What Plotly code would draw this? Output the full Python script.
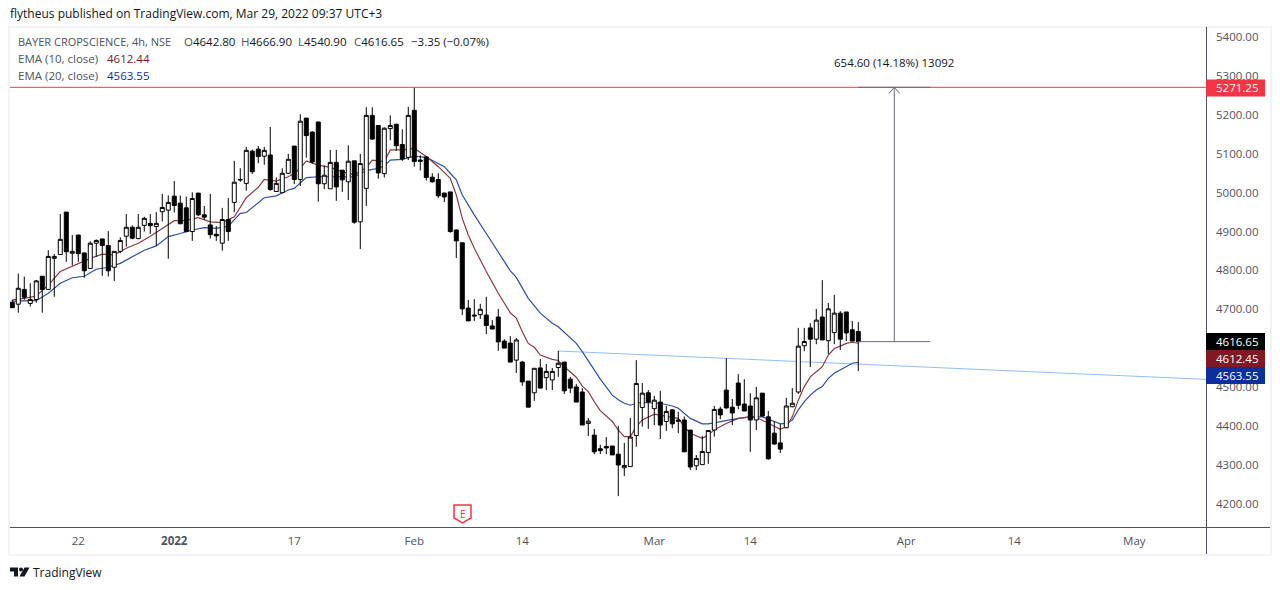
# bayer_chart.py
# TradingView style candle chart rebuilt with Plotly
import plotly.graph_objects as go

W, H = 1280, 590
FONT = "Open Sans"
GREY = "#50535e"
INK = "#131722"
RED = "#f23645"
DARK_RED = "#801922"
BLUE = "#0d2f9c"

# candle values, one per 4h bar
opens = [4718,4713,4751,4715,4725,4785,4751,4831,4841,4950,4844,4891,4845,4805,4870,4881,4864,4808,4849,4888,
         4911,4882,4916,4921,4913,4951,4955,4991,4973,4961,4900,4999,4943,4917,4893,4870,4931,4975,5034,5024,
         5107,5112,5094,5097,5003,5000,5050,5120,5034,5192,5156,5182,5023,5010,5078,5058,5028,5082,4925,5011,
         5199,5173,5049,5165,5176,5124,5091,5212,5084,5092,5040,5034,4999,5002,4904,4871,4703,4685,4686,4685,
         4657,4680,4618,4613,4569,4564,4515,4485,4549,4524,4518,4550,4564,4520,4500,4487,4406,4376,4341,4347,
         4348,4327,4292,4295,4375,4447,4485,4444,4461,4411,4441,4415,4415,4389,4297,4300,4331,4389,4443,4492,
         4448,4510,4456,4451,4415,4484,4423,4381,4356,4395,4449,4487,4606,4652,4623,4680,4619,4640,4690,4693,
         4647,4642.80]
highs = [4724,4792,4784,4767,4775,4785,4852,4842,4945,4950,4891,4891,4845,4875,4880,4881,4901,4849,4885,4945,
         4916,4945,4938,4945,4950,4997,4993,5030,4993,4990,5001,4999,4966,4997,4914,4961,4986,5082,5063,5118,
         5111,5120,5118,5169,5039,5063,5100,5120,5202,5192,5158,5182,5070,5110,5110,5058,5122,5082,5100,5220,
         5220,5173,5168,5199,5178,5163,5221,5271.25,5096,5094,5050,5050,5000,5002,4906,4871,4724,4726,4714,4732,
         4672,4701,4623,4631,4626,4567,4515,4548,4572,4559,4549,4593,4564,4526,4508,4497,4420,4392,4351,4371,
         4348,4400,4356,4420,4569,4510,4492,4477,4490,4451,4441,4436,4424,4389,4325,4374,4389,4451,4449,4574,
         4469,4533,4520,4484,4500,4484,4438,4412,4405,4472,4497,4652,4652,4664,4701,4775,4716,4737,4695,4693,
         4670,4666.90]
lows = [4704,4691,4724,4707,4717,4691,4751,4732,4840,4822,4813,4822,4781,4804,4835,4786,4784,4773,4844,4861,
        4880,4880,4900,4894,4863,4926,4830,4949,4919,4898,4876,4940,4930,4882,4876,4851,4876,4950,5028,5005,
        5048,5076,5072,5005,5003,5000,5048,5022,5017,5090,5075,4977,5009,5010,4979,5002,4981,4920,4855,4966,
        5136,5036,5039,5135,5108,5082,5084,5067,5057,5031,5026,4986,4976,4897,4832,4685,4670,4670,4675,4636,
        4649,4593,4600,4564,4536,4503,4448,4464,4497,4492,4492,4526,4482,4484,4461,4402,4374,4327,4327,4327,
        4325,4219,4271,4295,4346,4398,4392,4402,4366,4387,4394,4381,4333,4286,4286,4300,4302,4372,4417,4444,
        4402,4443,4438,4333,4389,4423,4313,4351,4330,4394,4448,4482,4592,4551,4610,4621,4585,4610,4595,4618,
        4618,4540.90]
closes = [4704,4754,4731,4725,4773,4751,4836,4836,4880,4848,4849,4843,4799,4870,4877,4864,4799,4849,4877,4911,
          4883,4911,4934,4915,4921,4962,4975,4967,4920,4900,4985,4943,4937,4892,4889,4931,4900,5027,5033,5109,
          5054,5093,5109,5008,5024,5050,5086,5034,5184,5147,5079,5023,5045,5078,5015,5033,5081,4924,5075,5199,
          5138,5051,5166,5173,5121,5087,5199,5080,5081,5039,5028,4992,4989,4900,4876,4701,4670,4683,4700,4658,
          4649,4616,4600,4564,4621,4513,4448,4548,4497,4540,4540,4561,4490,4497,4461,4402,4412,4333,4336,4343,
          4325,4299,4298,4371,4509,4484,4461,4466,4402,4437,4405,4412,4333,4294,4316,4334,4388,4442,4428,4446,
          4433,4453,4438,4415,4472,4425,4315,4353,4340,4451,4458,4605,4617,4623,4672,4621,4701,4690,4623,4639,
          4618,4616.65]
bars = list(range(len(closes)))

# EMA readings, bar index and value
ema10_bars = [0,2,4,6,8,11,13,15,17,19,21,23,25,27,29,31,33,35,37,39,41,42,44,46,47,48,49,51,53,55,57,59,60,62,63,65,
              67,69,71,73,74,75,76,77,79,81,83,84,85,86,87,88,90,91,92,94,95,96,97,98,100,101,102,103,104,105,107,
              109,111,112,113,115,116,117,119,121,123,124,125,127,128,129,130,131,132,133,134,135,136,137,138,139,140,141]
ema10 = [4724,4728,4734,4762,4797,4818,4831,4842,4840,4857,4870,4888,4908,4928,4929,4936,4925,4923,4938,4987,5014,
         5034,5030,5041,5050,5063,5082,5071,5065,5054,5046,5065,5084,5080,5110,5110,5114,5093,5067,5037,4994,4934,
         4891,4857,4797,4741,4691,4677,4642,4612,4602,4582,4571,4568,4552,4525,4502,4488,4462,4439,4411,4389,4372,
         4372,4398,4415,4430,4424,4419,4398,4381,4368,4376,4390,4406,4419,4423,4422,4415,4399,4391,4398,4423,4466,
         4501,4526,4539,4552,4582,4599,4605,4612,4615,4612.44]
ema20_bars = [0,2,4,6,7,8,10,12,14,16,18,20,22,24,26,28,30,32,34,36,38,39,41,42,44,46,47,49,51,53,55,57,59,61,62,63,
              65,67,69,71,72,73,74,75,76,77,79,81,83,84,86,88,90,91,93,94,95,96,97,98,99,100,101,102,103,104,105,108,
              110,111,113,115,116,117,119,121,123,125,127,128,129,130,131,132,133,134,135,136,137,138,139,140,141]
ema20 = [4721,4722,4722,4741,4754,4767,4781,4785,4803,4808,4818,4835,4852,4863,4887,4895,4904,4910,4908,4914,4947,
         4949,4974,4987,4992,5007,5011,5039,5041,5041,5041,5041,5057,5063,5069,5084,5086,5094,5091,5076,5067,5050,
         5033,4994,4968,4943,4895,4848,4799,4782,4728,4690,4664,4655,4627,4612,4591,4569,4544,4520,4498,4479,4467,
         4458,4453,4458,4460,4458,4451,4445,4419,4405,4405,4408,4413,4419,4423,4423,4411,4405,4406,4415,4441,4462,
         4479,4492,4501,4522,4535,4544,4552,4561,4563.55]

# trend line and measure tool
trend_bars = [91, 198.95]
trend_vals = [4592.5, 4519.5]
measure_from = 4616.65
measure_to = 5271.25
measure_bars = [141, 153]
measure_mid = 147

# axis labels, the 4600 label is hidden behind the price tags in the original
month_ticks = [11, 27, 47, 67, 85, 107, 123, 149, 167, 187]
month_labels = ["22", "<b>2022</b>", "17", "Feb", "14", "Mar", "14", "Apr", "14", "May"]
price_ticks = [5400, 5300, 5200, 5100, 5000, 4900, 4800, 4700, 4500, 4400, 4300, 4200]
price_labels = ["%.2f" % p for p in price_ticks]
x_range = [-0.38, 198.95]
y_range = [4139.5, 5426.5]


def px(x):
    return x / W


def py(y):
    return 1 - y / H


def note(x, y, text, color=GREY, size=11.5, anchor="left"):
    # annotations pad their text, pull left aligned ones back by that much
    if anchor == "left":
        x -= 2
    return dict(xref="paper", yref="paper", x=px(x), y=py(y), text=text, showarrow=False,
                xanchor=anchor, yanchor="middle", align=anchor,
                font=dict(family=FONT, size=size, color=color))


def rect(x0, y0, x1, y1, fill):
    return dict(type="rect", xref="paper", yref="paper", x0=px(x0), x1=px(x1), y0=py(y0), y1=py(y1),
                fillcolor=fill, line_width=0, layer="above")


def poly(points, fill="rgba(0,0,0,0)", line=None, width=0):
    path = "M" + " L".join("%.5f,%.5f" % (px(a), py(b)) for a, b in points) + " Z"
    return dict(type="path", xref="paper", yref="paper", path=path, fillcolor=fill,
                line=dict(color=line or fill, width=width), layer="above")


fig = go.Figure()

# EMAs sit under the candles, so the candles go on the overlaid axes
fig.add_trace(go.Scatter(x=trend_bars, y=trend_vals, mode="lines", line=dict(color="#90bff9", width=1)))
fig.add_trace(go.Scatter(x=ema20_bars, y=ema20, mode="lines", line=dict(color="#2d4fa8", width=1.2)))
fig.add_trace(go.Scatter(x=ema10_bars, y=ema10, mode="lines", line=dict(color="#8e3a44", width=1.2)))
fig.add_trace(go.Candlestick(
    x=bars, open=opens, high=highs, low=lows, close=closes, xaxis="x2", yaxis="y2", whiskerwidth=0,
    increasing=dict(line=dict(color="#000000", width=1), fillcolor="#ffffff"),
    decreasing=dict(line=dict(color="#000000", width=1), fillcolor="#000000"),
))

# resistance level and measure tool
fig.add_trace(go.Scatter(x=x_range, y=[measure_to, measure_to], mode="lines", xaxis="x2", yaxis="y2",
                         line=dict(color="#e0424f", width=1)))
for xs, ys in [
    (measure_bars, [measure_from, measure_from]),
    (measure_bars, [measure_to, measure_to]),
    ([measure_mid, measure_mid], [measure_from, measure_to]),
    ([measure_mid - 0.9, measure_mid, measure_mid + 0.9], [measure_to - 16, measure_to, measure_to - 16]),
]:
    fig.add_trace(go.Scatter(x=xs, y=ys, mode="lines", xaxis="x2", yaxis="y2",
                             line=dict(color="#6a6d78", width=1)))

shapes = [
    # outer frame and pane borders
    dict(type="rect", xref="paper", yref="paper", x0=px(9), x1=px(1271), y0=py(27), y1=py(555),
         line=dict(color="#f0f3fa", width=2), layer="below"),
    dict(type="line", xref="paper", yref="paper", x0=px(10), x1=px(1270), y0=py(527.5), y1=py(527.5),
         line=dict(color=GREY, width=1), layer="above"),
    dict(type="line", xref="paper", yref="paper", x0=px(1206.5), x1=px(1206.5), y0=py(27), y1=py(554),
         line=dict(color=GREY, width=1), layer="above"),
    # price tags
    rect(1206, 79.5, 1265, 96.5, RED),
    rect(1206, 333, 1265, 350, "#000000"),
    rect(1206, 350, 1265, 367, DARK_RED),
    rect(1206, 367, 1265, 384, BLUE),
    # earnings flag
    poly([(454, 505), (471, 505), (471, 518), (462.5, 523), (454, 518)], "#ffffff", RED, 1.5),
    # logo
    poly([(10, 567.5), (18, 567.5), (18, 576.5), (14, 576.5), (14, 571.5), (10, 571.5)], "#131722"),
    poly([(24.5, 567.5), (29.5, 567.5), (24.5, 576.5), (19.5, 576.5)], "#131722"),
    dict(type="circle", xref="paper", yref="paper", x0=px(19), x1=px(23), y0=py(567.5), y1=py(571.5),
         fillcolor="#131722", line_width=0, layer="above"),
]

annotations = [
    note(10, 14, "flytheus published on TradingView.com, Mar 29, 2022 09:37 UTC+3", INK, 12),
    note(18, 41, "BAYER CROPSCIENCE, 4h, NSE", GREY, 11),
    note(184, 41, "O<span style='color:%s'>4642.80</span>" % INK),
    note(241, 41, "H<span style='color:%s'>4666.90</span>" % INK),
    note(298, 41, "L<span style='color:%s'>4540.90</span>" % INK),
    note(354, 41, "C<span style='color:%s'>4616.65</span>" % INK),
    note(411, 41, "−3.35 (−0.07%)", INK),
    note(18, 58, "EMA (10, close)"),
    note(107, 58, "4612.44", DARK_RED),
    note(18, 75, "EMA (20, close)"),
    note(107, 75, "4563.55", BLUE),
    note(894, 63, "654.60 (14.18%) 13092", INK, 11.5, "center"),
    note(1216, 88, "5271.25", "#ffffff"),
    note(1216, 341.5, "4616.65", "#ffffff"),
    note(1216, 358.5, "4612.45", "#ffffff"),
    note(1216, 375.5, "4563.55", "#ffffff"),
    note(462.5, 513.5, "E", RED, 10, "center"),
    note(33, 572.5, "TradingView", INK, 12),
]

axis_font = dict(family=FONT, size=11.5, color=GREY)
fig.update_layout(
    width=W, height=H, autosize=False, showlegend=False,
    margin=dict(l=0, r=0, t=0, b=0),
    paper_bgcolor="#ffffff", plot_bgcolor="#ffffff",
    boxgap=0.05, boxgroupgap=0.3,
    shapes=shapes, annotations=annotations,
    xaxis=dict(domain=[px(10), px(1206)], range=x_range, showgrid=False, zeroline=False,
               tickmode="array", tickvals=month_ticks, ticktext=month_labels, ticks="",
               tickfont=axis_font, ticklabelstandoff=5, showline=False),
    yaxis=dict(domain=[py(527), py(27)], range=y_range, side="right", showgrid=False, zeroline=False,
               tickmode="array", tickvals=price_ticks, ticktext=price_labels, ticks="",
               tickfont=axis_font, ticklabelstandoff=9, showline=False),
    xaxis2=dict(overlaying="x", matches="x", visible=False, rangeslider=dict(visible=False)),
    yaxis2=dict(overlaying="y", matches="y", visible=False),
)

# the page keeps an 8px body margin otherwise
fig.write_html("out.html", config=dict(displayModeBar=False),
               post_script="document.body.style.margin='0';")
